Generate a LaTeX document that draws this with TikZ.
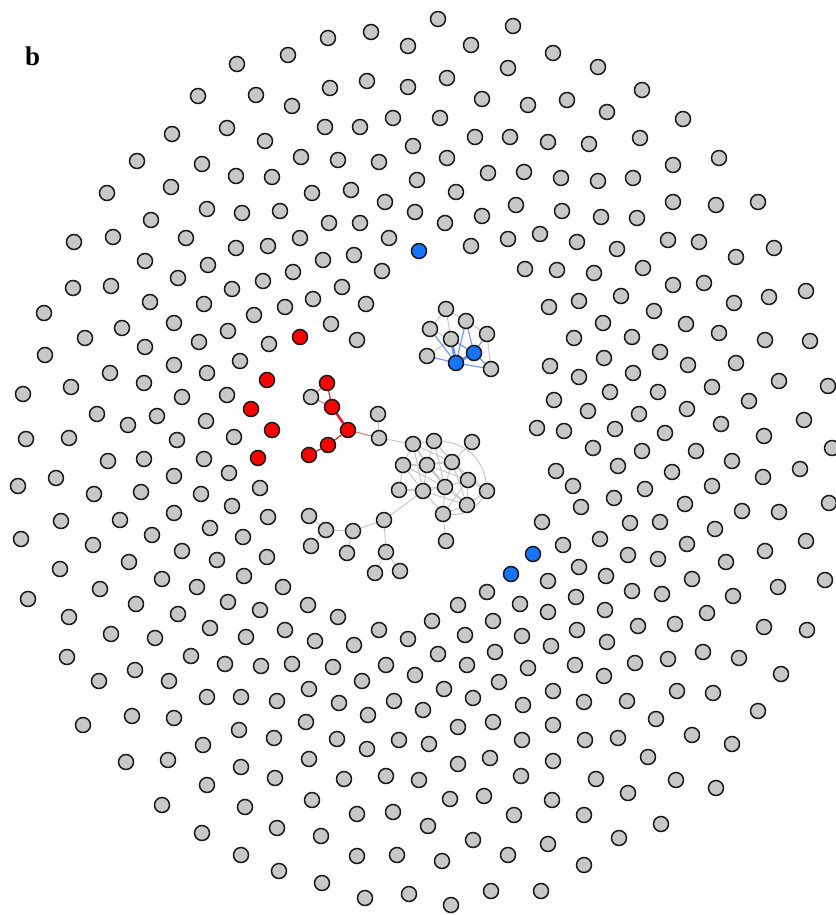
\documentclass[tikz,border=0pt]{standalone}
\usepackage{fontspec}
\setmainfont{Liberation Serif}
\usetikzlibrary{backgrounds}
\definecolor{ngray}{RGB}{200,200,200}
\definecolor{nborder}{RGB}{25,25,25}
\definecolor{nblue}{RGB}{24,116,255}
\definecolor{nred}{RGB}{255,0,0}
\definecolor{eblue}{RGB}{90,140,235}
\definecolor{ered}{RGB}{228,30,40}
\definecolor{ered2}{RGB}{240,120,125}
\definecolor{egray}{RGB}{200,200,200}
\tikzset{
  gnode/.style={circle, draw=nborder, fill=ngray, line width=1.5pt, minimum size=15pt, inner sep=0pt},
  rnode/.style={gnode, fill=nred},
  bnode/.style={gnode, fill=nblue},
  gedge/.style={draw=egray, line width=1pt},
  redge/.style={draw=ered, line width=1.2pt},
  rthick/.style={draw=ered, line width=2.6pt},
  rlight/.style={draw=ered2, line width=1.1pt},
  bedge/.style={draw=eblue, line width=1.2pt, opacity=0.85},
  bthick/.style={draw=eblue, line width=3pt, opacity=0.9},
  panel/.style={font=\fontsize{27}{27}\selectfont\bfseries, inner sep=0pt, anchor=base west}
}
\begin{document}
\begin{tikzpicture}[x=1pt,y=-1pt]
\useasboundingbox (0,0) rectangle (835,915);
\node[panel] (lab) at (25,66) {b};
% outer ring of isolated nodes
\foreach \x/\y [count=\i] in {
237/64, 198/96, 256/95, 172/134, 227/128, 265/141, 137/161, 202/164, 236/176, 272/177, 107/193, 171/187, 151/220, 207/209, 242/213, 74/242, 113/237, 186/238, 236/248, 268/246, 145/261, 208/265, 73/288, 111/286, 178/278, 232/289, 263/281, 44/313, 150/302, 204/304, 254/315, 85/338, 122/328, 174/323, 228/331, 45/355, 145/347, 199/342, 269/344, 110/373, 174/365, 240/361, 207/373, 23/394, 71/387, 144/383, 182/397, 227/395, 97/414, 128/425, 157/416, 206/421, 26/439, 69/438, 177/440, 234/437,
438/19, 513/26, 328/38, 371/32, 408/46, 471/45, 288/55, 553/53, 330/88, 367/81, 408/87, 447/78, 508/68, 292/106, 482/99, 528/105, 325/127, 360/127, 393/118, 440/118, 413/146, 475/137, 510/137, 548/142, 301/157, 338/160, 379/162, 447/158, 488/173, 524/172, 312/193, 351/190, 417/180, 456/192, 280/211, 385/202, 329/223, 360/223, 415/212, 445/223, 482/216, 516/205, 300/238, 354/255, 389/238, 471/246, 508/239, 540/234, 323/260, 293/272, 382/271, 525/269, 557/270, 342/287, 313/299, 366/304, 285/307, 549/307, 331/324, 357/340, 550/366, 554/400, 537/428, 564/431,
598/67, 567/100, 642/90, 607/112, 683/119, 589/144, 640/138, 719/158, 673/165, 561/178, 598/181, 633/178, 562/211, 601/217, 637/218, 673/202, 716/205, 758/202, 577/242, 617/249, 668/240, 699/242, 736/257, 774/248, 594/273, 643/268, 673/285, 704/283, 734/303, 769/297, 806/291, 579/301, 621/296, 654/311, 603/323, 686/324, 719/333, 765/340, 810/341, 574/338, 632/337, 660/352, 604/358, 688/365, 736/363, 779/381, 828/386, 579/377, 633/373, 712/387, 610/392, 658/392, 749/401, 588/411, 639/414, 687/409, 721/424, 804/420, 615/429, 665/433, 764/436, 593/448, 642/451, 696/451, 832/448,
108/461, 144/459, 204/459, 18/486, 56/478, 94/494, 141/492, 174/476, 201/494, 229/473, 260/488, 61/521, 120/520, 174/513, 232/506, 268/517, 21/539, 93/545, 152/535, 210/528, 243/537, 60/569, 129/562, 182/551, 217/560, 267/557, 28/599, 100/589, 162/579, 197/587, 244/576, 69/617, 136/604, 178/614, 228/602, 260/610, 111/634, 155/638, 210/628, 246/637, 67/657, 135/670, 191/656, 225/664, 261/666, 99/681, 169/681, 207/697, 241/697, 83/725, 132/716, 174/718, 239/730, 274/738, 126/762, 168/760, 203/745, 241/767, 275/778, 207/785, 162/805, 245/807, 277/828, 202/833, 241/855, 279/871, 277/701,
542/522, 283/587, 308/605, 338/617, 285/630, 487/592, 458/605, 520/604, 548/581, 548/612, 432/621, 379/630, 408/639, 315/641, 354/645, 465/635, 493/621, 522/636, 551/646, 292/664, 333/667, 386/665, 415/675, 438/654, 467/665, 495/652, 528/668, 309/689, 362/681, 444/689, 499/682, 339/703, 394/701, 423/710, 473/698, 523/705, 553/691, 306/722, 368/715, 458/727, 493/722, 553/725, 337/739, 367/749, 399/740, 429/744, 522/740, 309/759, 458/764, 490/758, 553/761, 344/779, 386/776, 419/780, 521/776, 312/800, 450/799, 484/796, 552/800, 357/814, 393/812, 428/826, 514/815, 321/836, 473/840, 548/844, 357/856, 397/855, 442/861, 508/855, 322/883, 365/898, 409/894, 451/905, 491/891, 541/891,
556/471, 618/466, 672/472, 732/461, 763/477, 800/469, 829/503, 573/486, 614/498, 645/489, 712/486, 581/507, 685/504, 742/511, 779/512, 630/523, 660/522, 715/529, 563/545, 600/539, 687/544, 806/541, 628/555, 658/559, 726/562, 765/551, 579/567, 606/576, 692/579, 778/587, 825/580, 632/591, 662/594, 733/596, 576/597, 605/610, 707/613, 577/630, 638/626, 675/624, 764/627, 807/630, 607/642, 703/652, 739/658, 575/665, 635/663, 668/659, 604/676, 781/674, 677/691, 713/693, 584/702, 627/701, 758/711, 656/719, 585/740, 618/738, 692/735, 732/744, 648/757, 596/779, 676/780, 716/788, 628/793, 584/815, 661/824, 619/838, 584/865}
  \node[gnode] (n\i) at (\x,\y) {};
% isolated red and blue nodes
\foreach \x/\y [count=\i] in {300/337, 267/380, 251/409, 272/430, 258/458}
  \node[rnode] (ri\i) at (\x,\y) {};
\foreach \x/\y [count=\i] in {419/251, 533/554, 511/574}
  \node[bnode] (bi\i) at (\x,\y) {};
% blue component
\node[gnode] (u1) at (446,309) {};
\node[gnode] (u2) at (466,321) {};
\node[gnode] (u3) at (430,329) {};
\node[gnode] (u4) at (451,339) {};
\node[gnode] (u5) at (487,334) {};
\node[gnode] (u6) at (427,356) {};
\node[gnode] (u7) at (491,369) {};
\node[bnode] (ub1) at (474,353) {};
\node[bnode] (ub2) at (456,363) {};
% red component
\node[rnode] (r1) at (327,383) {};
\node[gnode] (g1) at (311,397) {};
\node[rnode] (r2) at (332,407) {};
\node[rnode] (r3) at (348,430) {};
\node[rnode] (r4) at (328,445) {};
\node[rnode] (r5) at (309,455) {};
% central gray component
\node[gnode] (c1) at (378,414) {};
\node[gnode] (c2) at (379,438) {};
\node[gnode] (c3) at (413,444) {};
\node[gnode] (c4) at (434,441) {};
\node[gnode] (c5) at (472,442) {};
\node[gnode] (c6) at (403,465) {};
\node[gnode] (c7) at (427,465) {};
\node[gnode] (c8) at (452,462) {};
\node[gnode] (c9) at (468,480) {};
\node[gnode] (c10) at (399,490) {};
\node[gnode] (c11) at (423,491) {};
\node[gnode] (c12) at (445,487) {};
\node[gnode] (c13) at (487,491) {};
\node[gnode] (c14) at (467,505) {};
\node[gnode] (c15) at (443,514) {};
\node[gnode] (c16) at (446,541) {};
\node[gnode] (c17) at (384,520) {};
\node[gnode] (c18) at (353,531) {};
\node[gnode] (c19) at (326,530) {};
\node[gnode] (c20) at (309,516) {};
\node[gnode] (c21) at (311,546) {};
\node[gnode] (c22) at (347,553) {};
\node[gnode] (c23) at (386,552) {};
\node[gnode] (c24) at (375,573) {};
\node[gnode] (c25) at (400,571) {};
\begin{scope}[on background layer]
  % blue component edges
  \foreach \a/\b in {u1/u2, u1/u4, u2/u5, u3/u4, u6/u4, u5/u7, u1/u3}
    \draw[gedge] (\a) -- (\b);
  \foreach \a/\b in {u4/ub1, u2/ub1, u2/ub2, u5/ub1, ub1/u7, ub2/u7, u3/ub2, u6/ub2}
    \draw[bedge] (\a) -- (\b);
  \draw[bthick] (ub1) -- (ub2);
  \draw[bthick] (u4) -- (ub2);
  % red component edges
  \draw[redge] (r1) -- (r2);
  \draw[rlight] (r1) -- (g1);
  \draw[rlight] (g1) -- (r2);
  \draw[rthick] (r2) -- (r3);
  \draw[redge] (r3) -- (r4);
  \draw[redge] (r4) -- (r5);
  \draw[rlight] (r3) -- (c2);
  % central component edges
  \foreach \a/\b in {c1/c2, c2/c3, c5/c8, c15/c16, c17/c11, c17/c18, c18/c19, c19/c20, c19/c21, c18/c22, c17/c23, c23/c24, c23/c25,
    c3/c4, c3/c6, c3/c7, c3/c8, c3/c11, c3/c12, c4/c7, c4/c8, c4/c12, c6/c7, c6/c10, c6/c11, c6/c12, c7/c8, c7/c11, c7/c12, c7/c9,
    c8/c9, c8/c12, c8/c13, c8/c14, c9/c13, c9/c12, c9/c14, c10/c11, c11/c12, c11/c15, c12/c14, c12/c15, c14/c15, c13/c14, c6/c8,
    c7/c14, c9/c15, c4/c9, c11/c14, c10/c12}
    \draw[gedge] (\a) -- (\b);
  \draw[gedge] (c4) to[bend left=40] (c13);
  \draw[gedge] (c13) to[bend left=30] (c15);
\end{scope}
\end{tikzpicture}
\end{document}
